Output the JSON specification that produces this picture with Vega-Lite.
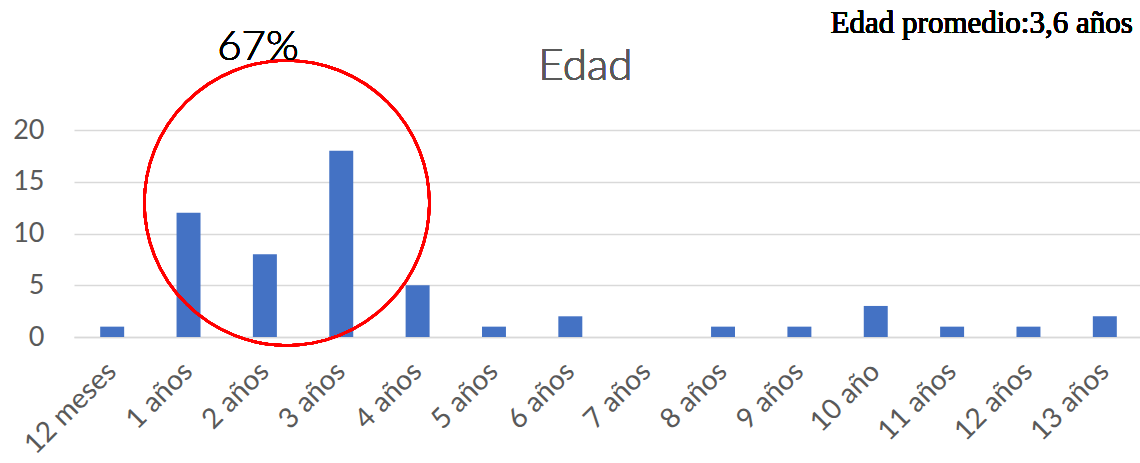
{
  "$schema": "https://vega.github.io/schema/vega-lite/v6.json",
  "autosize": {"type": "none"},
  "padding": {"left": 74, "top": 130, "right": 0, "bottom": 126},
  "width": 1069,
  "height": 207,
  "background": "white",
  "config": {
    "view": {"stroke": null},
    "font": "Lato"
  },
  "data": {
    "values": [
      {"edad": "12 meses", "n": 1},
      {"edad": "1 años", "n": 12},
      {"edad": "2 años", "n": 8},
      {"edad": "3 años", "n": 18},
      {"edad": "4 años", "n": 5},
      {"edad": "5 años", "n": 1},
      {"edad": "6 años", "n": 2},
      {"edad": "7 años", "n": 0},
      {"edad": "8 años", "n": 1},
      {"edad": "9 años", "n": 1},
      {"edad": "10 año", "n": 3},
      {"edad": "11 años", "n": 1},
      {"edad": "12 años", "n": 1},
      {"edad": "13 años", "n": 2}
    ]
  },
  "encoding": {
    "x": {
      "field": "edad",
      "type": "nominal",
      "sort": null,
      "scale": {"paddingInner": 0.686, "paddingOuter": 0.343},
      "axis": {
        "title": null,
        "labelAngle": -45,
        "labelAlign": "right",
        "labelBaseline": "middle",
        "labelFont": "Lato",
        "labelFontSize": 28,
        "labelColor": "#595959",
        "labelPadding": 30,
        "ticks": false,
        "domainColor": "#D9D9D9",
        "domainWidth": 1.5,
        "grid": false
      }
    }
  },
  "layer": [
    {
      "mark": {"type": "bar", "color": "#4472C4"},
      "encoding": {
        "y": {
          "field": "n",
          "type": "quantitative",
          "scale": {"domain": [0, 20], "nice": false},
          "axis": {
            "title": null,
            "values": [0, 5, 10, 15, 20],
            "labelFont": "Lato",
            "labelFontSize": 27,
            "labelColor": "#595959",
            "labelPadding": 30,
            "ticks": false,
            "domain": false,
            "gridColor": "#D9D9D9",
            "gridWidth": 1.5
          }
        }
      }
    },
    {
      "mark": {"type": "point", "shape": "circle", "filled": false, "stroke": "#FF0000", "strokeWidth": 2.5, "size": 81225, "xOffset": 22, "opacity": 1},
      "encoding": {
        "x": {"datum": "2 años"},
        "y": {"datum": 12.95}
      }
    },
    {
      "mark": {"type": "text", "text": "Edad", "font": "Lato", "fontSize": 44, "fontWeight": 300, "fill": "#595959", "align": "center", "baseline": "alphabetic", "dx": 15},
      "encoding": {
        "x": {"datum": "6 años"},
        "y": {"datum": 24.83}
      }
    },
    {
      "mark": {"type": "text", "text": "67%", "font": "Lato", "fontSize": 42, "fontWeight": 300, "fill": "#000000", "align": "center", "baseline": "alphabetic", "dx": -7},
      "encoding": {
        "x": {"datum": "2 años"},
        "y": {"datum": 26.76}
      }
    },
    {
      "mark": {"type": "text", "text": "Edad promedio:3,6 años", "font": "Liberation Serif", "fontSize": 31, "fill": "#000000", "align": "right", "baseline": "alphabetic", "dx": 28},
      "encoding": {
        "x": {"datum": "13 años"},
        "y": {"datum": 29.37}
      }
    }
  ]
}
